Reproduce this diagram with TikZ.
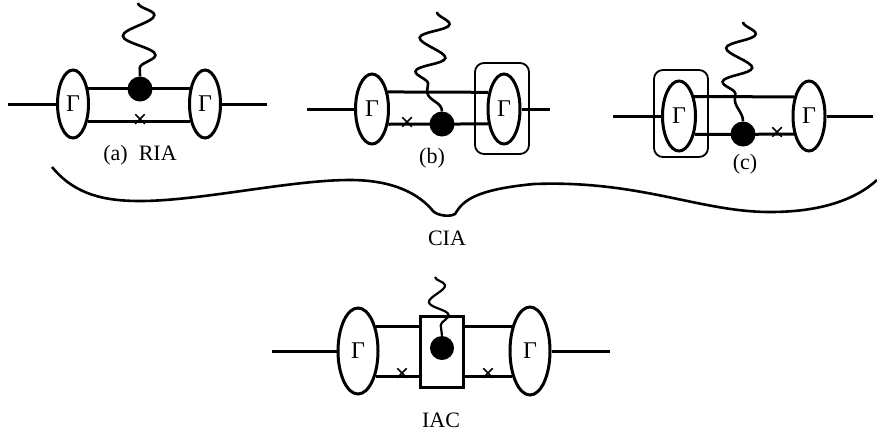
\documentclass[tikz,border=0pt]{standalone}
\usepackage{fontspec}
\setmainfont{Liberation Serif}
\usetikzlibrary{shapes.geometric,shapes.misc,decorations.pathmorphing,positioning}
\tikzstyle{line} = [draw, line width=3pt]
\tikzstyle{vertex} = [draw, ellipse, line width=3pt, inner sep=0pt, minimum width=33pt, minimum height=70pt, fill=white, font=\fontsize{24}{28}\selectfont]
\tikzstyle{blob} = [circle, fill=black, inner sep=0pt, minimum size=25pt]
\tikzstyle{xmark} = [cross out, draw, line width=1.5pt, inner sep=0pt, minimum size=8pt]
\tikzstyle{gbox} = [draw, rounded corners=9pt, line width=1.8pt, inner sep=0pt, minimum width=54pt]
\tikzstyle{photon} = [draw, line width=2.6pt, decorate, decoration={snake, segment length=40pt, amplitude=16pt, post length=3pt}]
\tikzstyle{softphoton} = [draw, line width=2.2pt, decorate, decoration={snake, segment length=30pt, amplitude=9pt, post length=2pt}]

\begin{document}
\begin{tikzpicture}[x=1pt, y=-1pt, font=\fontsize{22}{26}\selectfont]
    \useasboundingbox (0,0) rectangle (877,437);

    % (a) RIA
    \node [vertex, minimum width=31pt, minimum height=68pt] (la) at (73,104) {Γ};
    \node [vertex, minimum width=31pt, minimum height=68pt] (ra) at (205,104) {Γ};
    \node [blob] (dota) at (140,89) {};
    \node [xmark] (xa) at (140,119) {};
    \coordinate (ina) at (8,104);
    \coordinate (outa) at (267,104);
    \coordinate (wa) at (138,3);
    \node (laba) at (140,155) {(a)\ \ RIA};

    \path [line] (ina) -- (la);
    \path [line] (ra) -- (outa);
    \path [line] (la.45) -- (ra.135);
    \path [line] (la.-49) -- (ra.-131);
    \path [photon] (wa) -- (dota.north);

    % (b)
    \node [vertex] (lb) at (372,109) {Γ};
    \node [vertex, minimum width=32pt] (rb) at (504,109) {Γ};
    \node [gbox, minimum height=91pt] (gb) at (502,108.5) {};
    \node [blob] (dotb) at (442,124) {};
    \node [xmark] (xb) at (407,122) {};
    \coordinate (inb) at (307,109);
    \coordinate (outb) at (550,109);
    \coordinate (wb) at (437,12);
    \coordinate (kb) at (427,92);
    \node (labb) at (432,158) {(b)};

    \path [line] (inb) -- (lb);
    \path [line] (rb) -- (outb);
    \path [line] (lb.47) -- (rb.133);
    \path [line] (lb.-43) -- (rb.-137);
    \path [photon, decoration={segment length=34pt, amplitude=14pt}] (wb) -- (kb);
    \draw [line width=2.6pt] (kb) to[out=-80, in=90] (dotb.north);

    % (c)
    \node [vertex] (lc) at (679,116) {Γ};
    \node [vertex, minimum width=32pt] (rc) at (809,116) {Γ};
    \node [gbox, minimum height=87pt] (gc) at (681,113.5) {};
    \node [blob] (dotc) at (743,134) {};
    \node [xmark] (xc) at (777,132) {};
    \coordinate (inc) at (613,116);
    \coordinate (outc) at (873,116);
    \coordinate (wc) at (743,22);
    \coordinate (kc) at (735,97);
    \node (labc) at (745,164) {(c)};

    \path [line] (inc) -- (lc);
    \path [line] (rc) -- (outc);
    \path [line] (lc.52) -- (rc.128);
    \path [line] (lc.-50) -- (rc.-130);
    \path [photon, decoration={segment length=34pt, amplitude=14pt}] (wc) -- (kc);
    \draw [line width=2.6pt] (kc) to[out=-100, in=90] (dotc.north);

    % brace over (a)-(c)
    \draw [line width=2.6pt] (52,167) .. controls (75,195) and (105,201) .. (140,201)
        .. controls (200,201) and (290,180) .. (350,180)
        .. controls (395,180) and (420,195) .. (433,211)
        .. controls (438,216) and (450,217) .. (455,214)
        .. controls (462,203) and (470,190) .. (534,184)
        .. controls (640,180) and (700,212) .. (770,212)
        .. controls (820,212) and (855,200) .. (877,180);
    \node (cia) at (447,238) {CIA};

    % IAC
    \node [vertex, minimum width=40pt, minimum height=86pt] (li) at (358,351) {Γ};
    \node [vertex, minimum width=40pt, minimum height=88pt] (ri) at (530,351) {Γ};
    \node [draw, line width=3pt, minimum width=43pt, minimum height=71pt] (core) at (441.5,351.5) {};
    \node [blob, minimum size=24pt] (doti) at (442,348) {};
    \node [xmark] (xi) at (402,373) {};
    \node [xmark] (xj) at (488,373) {};
    \coordinate (ini) at (272,351);
    \coordinate (outi) at (610,351);
    \coordinate (wi) at (435,277);
    \node (iac) at (441,420) {IAC};

    \path [line] (ini) -- (li);
    \path [line] (ri) -- (outi);
    \path [line] (li.53) -- (li.53 -| core.west);
    \path [line] (li.-55) -- (li.-55 -| core.west);
    \path [line] (core.east |- ri.127) -- (ri.127);
    \path [line] (core.east |- ri.-125) -- (ri.-125);
    \path [softphoton] (wi) -- (doti.north);

\end{tikzpicture}
\end{document}
